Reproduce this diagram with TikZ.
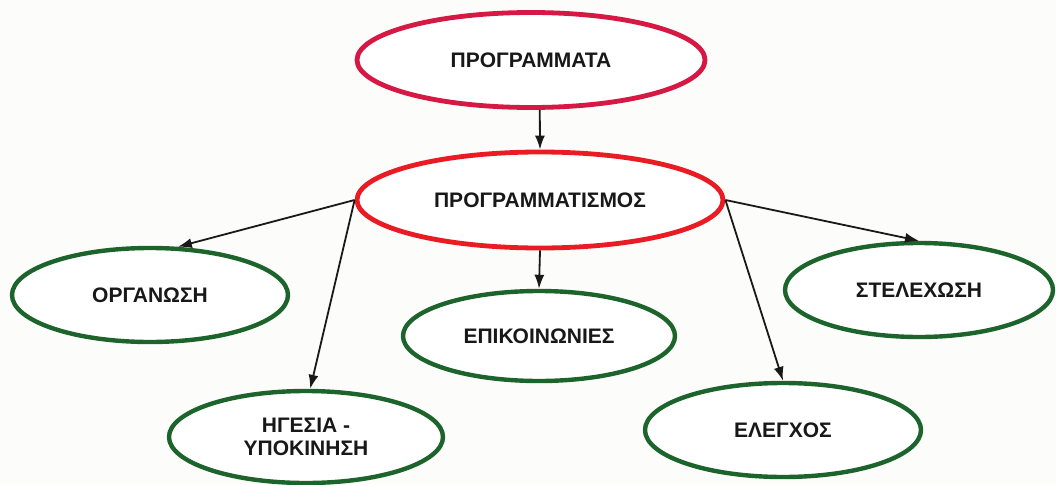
\documentclass[tikz,border=0pt]{standalone}
\usepackage{fontspec}
\setmainfont{Liberation Sans}
\usetikzlibrary{shapes.geometric,arrows.meta}

\definecolor{paper}{RGB}{252,252,251}
\definecolor{crimsonline}{RGB}{214,24,68}
\definecolor{redline}{RGB}{232,28,34}
\definecolor{greenline}{RGB}{28,100,44}
\definecolor{inktext}{RGB}{24,24,24}

\tikzset{
  oval/.style={ellipse, draw, line width=4.8pt, fill=white, inner sep=0pt,
    text=inktext, font=\bfseries\fontsize{21}{23}\selectfont, align=center},
  headoval/.style={oval, draw=crimsonline},
  coreoval/.style={oval, draw=redline},
  taskoval/.style={oval, draw=greenline, line width=4.4pt},
  link/.style={line width=1.8pt, draw=black!90,
    -{Latex[length=14pt,width=10pt]}}
}

\begin{document}
\begin{tikzpicture}[x=1pt,y=-1pt]
  % page area
  \fill[paper] (0,0) rectangle (1056,484);
  \useasboundingbox (0,0) rectangle (1056,484);

  % upper level
  \node[headoval, minimum width=348pt, minimum height=95pt] (prog) at (531,60) {ΠΡΟΓΡΑΜΜΑΤΑ};
  \node[coreoval, minimum width=366pt, minimum height=96pt] (plan) at (540,200) {ΠΡΟΓΡΑΜΜΑΤΙΣΜΟΣ};

  % functions
  \node[taskoval, minimum width=276pt, minimum height=94pt] (org) at (150,295) {ΟΡΓΑΝΩΣΗ};
  \node[taskoval, minimum width=274pt, minimum height=92pt] (lead) at (306,437) {ΗΓΕΣΙΑ -\\ΥΠΟΚΙΝΗΣΗ};
  \node[taskoval, minimum width=272pt, minimum height=90pt] (comm) at (539,336) {ΕΠΙΚΟΙΝΩΝΙΕΣ};
  \node[taskoval, minimum width=276pt, minimum height=94pt] (ctrl) at (783,430) {ΕΛΕΓΧΟΣ};
  \node[taskoval, minimum width=268pt, minimum height=94pt] (staff) at (919,290) {ΣΤΕΛΕΧΩΣΗ};

  % connectors
  \draw[link] (prog.280) -- (plan.north);
  \draw[link] (plan.west) -- (org.60);
  \draw[link] (plan.west) -- (lead.85);
  \draw[link] (plan.south) -- (comm.north);
  \draw[link] (plan.east) -- (ctrl.north);
  \draw[link] (plan.east) -- (staff.north);
\end{tikzpicture}
\end{document}
